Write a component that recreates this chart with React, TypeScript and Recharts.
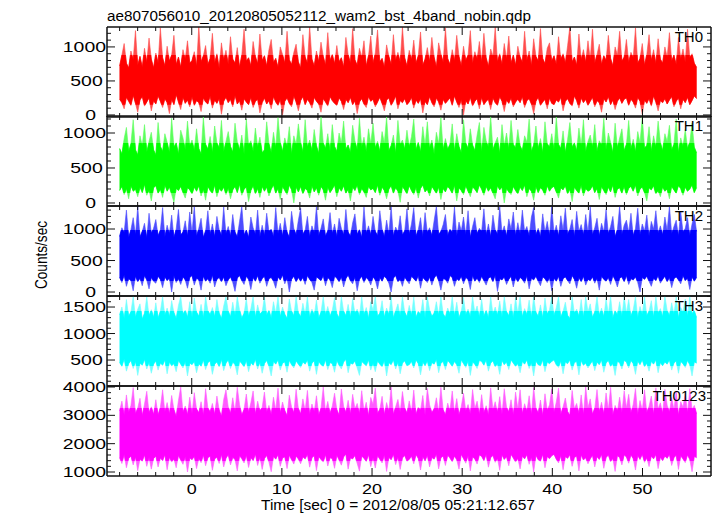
import React from "react";
import { AreaChart, Area, XAxis, YAxis } from "recharts";

// light curve bins, -8 s .. 56 s; each bin drawn as its low/high spread
const TIME_START = -8;
const TIME_END = 56;

const TH0_HI = [
  720, 880, 1050, 760, 690, 940, 810, 1240, 730, 860, 700, 980, 770, 1130, 820, 690,
  910, 760, 1280, 840, 720, 1010, 790, 880, 1170, 740, 850, 700, 960, 820, 1090, 760,
  800, 930, 710, 1300, 780, 870, 1020, 740, 830, 1200, 760, 900, 680, 1060, 810, 950,
  740, 1150, 820, 760, 990, 700, 880, 1260, 790, 840, 720, 1080, 860, 750, 1190, 800,
  870, 720, 960, 1110, 770, 830, 700, 1000, 890, 760, 1230, 810, 740, 920, 1040, 780,
  690, 1180, 850, 760, 1300, 820, 720, 940, 780, 1070, 860, 730, 1210, 800, 890, 750,
  1020, 780, 840, 700, 1140, 890, 760, 1270, 810, 730, 980, 850, 1090, 720, 870, 1160,
  760, 910, 1250, 780, 830, 700, 1030, 860, 740, 1180, 800, 920, 770, 1290, 840, 720,
  950, 810, 1100, 760, 870, 1220, 730, 820, 990, 780, 1140, 850, 700, 1060, 900, 770,
  1280, 830, 740, 960, 790, 1170, 860, 720, 1010, 800, 880, 1240, 750, 930, 820, 1080,
  770, 1200, 840, 710, 970, 860, 1290, 780, 900, 740, 1050, 820, 1160, 760, 880, 730,
  1010, 850, 770, 1230, 800, 940, 720, 1120, 860, 790, 1270, 830, 750, 980, 1060, 790,
  870, 740, 1150, 820, 900, 760, 1020, 1300, 780, 850, 730, 1190, 810, 960, 770, 1090,
  820, 1260, 760, 890, 1040, 740, 870, 800, 1170, 830, 720, 1000, 880, 1230, 790, 850,
  1110, 770, 920, 840, 1280, 760, 830, 1050, 730, 890, 1180, 800, 960, 750, 1120, 820,
  760, 1000, 850, 1210, 790, 880, 740, 1140, 820, 970, 770, 1260, 840, 900, 760, 700,
];
const TH0_LO = [
  230, 180, 90, 260, 200, 140, 290, 170, 40, 220, 270, 130, 190, 250, 60, 210,
  160, 280, 200, 110, 240, 180, 20, 230, 150, 300, 190, 80, 260, 170, 220, 120,
  270, 140, 210, 180, 50, 250, 190, 160, 280, 100, 220, 170, 240, 10, 200, 260,
  180, 230, 120, 290, 160, 210, 70, 240, 190, 150, 260, 110, 200, 230, 30, 180,
  250, 160, 210, 90, 270, 190, 140, 230, 0, 200, 250, 170, 120, 280, 190, 60,
  210, 270, 150, 230, 180, 100, 260, 200, 160, 40, 240, 190, 130, 270, 210, 170,
  140, 250, 200, 80, 230, 180, 260, 150, 210, 20, 190, 240, 160, 110, 270, 200,
  230, 120, 190, 260, 170, 60, 220, 250, 140, 200, 280, 90, 210, 180, 240, 150,
  190, 260, 100, 220, 170, 240, 30, 200, 150, 270, 180, 120, 250, 190, 70, 230,
  170, 210, 250, 140, 280, 190, 110, 230, 0, 210, 160, 260, 130, 200, 240, 90,
  260, 150, 200, 230, 80, 250, 180, 140, 270, 200, 50, 220, 170, 250, 120, 190,
  230, 180, 270, 110, 210, 240, 160, 20, 200, 260, 140, 190, 230, 90, 250, 170,
  150, 220, 190, 260, 60, 200, 240, 170, 130, 280, 210, 100, 250, 180, 230, 140,
  200, 260, 120, 210, 180, 40, 240, 190, 270, 150, 220, 80, 200, 250, 170, 230,
  250, 140, 230, 190, 100, 260, 200, 10, 220, 170, 240, 130, 280, 190, 60, 210,
  180, 240, 160, 220, 270, 120, 200, 250, 90, 230, 180, 260, 150, 210, 280, 240,
];

const TH1_HI = [
  780, 700, 920, 1080, 740, 850, 1190, 760, 690, 960, 820, 1120, 730, 880, 1010, 760,
  690, 1150, 810, 740, 990, 870, 720, 1210, 800, 860, 700, 1040, 930, 760, 1170, 820,
  900, 750, 1060, 780, 700, 1230, 840, 770, 950, 720, 1100, 860, 790, 1180, 740, 880,
  1020, 810, 730, 1140, 880, 760, 970, 700, 1200, 830, 890, 740, 1070, 800, 940, 720,
  760, 1160, 850, 720, 1010, 790, 1220, 870, 740, 930, 810, 1090, 700, 960, 840, 1130,
  870, 730, 1190, 800, 900, 750, 1050, 820, 710, 1240, 860, 780, 990, 740, 1120, 810,
  740, 1000, 860, 1170, 770, 830, 720, 1110, 890, 760, 1210, 800, 940, 730, 1060, 850,
  1140, 790, 880, 740, 1020, 860, 1230, 750, 820, 970, 710, 1180, 840, 900, 770, 1040,
  800, 950, 1200, 760, 870, 730, 1090, 820, 1160, 780, 900, 700, 1010, 850, 1220, 760,
  920, 770, 840, 1130, 740, 990, 810, 720, 1190, 860, 780, 1060, 830, 750, 970, 1150,
  730, 1080, 890, 800, 1240, 760, 860, 940, 710, 1120, 820, 1000, 770, 1180, 840, 790,
  1050, 820, 750, 960, 870, 1200, 740, 830, 1100, 780, 920, 720, 1160, 850, 800, 990,
  760, 1230, 840, 780, 1030, 720, 910, 1150, 800, 860, 750, 1070, 820, 1190, 730, 880,
  970, 800, 1120, 740, 890, 830, 1210, 760, 1000, 870, 720, 1140, 790, 930, 1060, 750,
  840, 1180, 770, 910, 730, 1020, 860, 1230, 790, 820, 1090, 740, 960, 800, 1170, 870,
  750, 990, 880, 1110, 760, 840, 1200, 720, 930, 810, 1050, 780, 870, 1140, 800, 720,
];
const TH1_LO = [
  180, 240, 120, 210, 60, 250, 170, 200, 90, 230, 150, 270, 110, 190, 30, 220,
  250, 140, 200, 80, 260, 170, 230, 120, 10, 210, 180, 240, 150, 70, 220, 190,
  130, 230, 170, 250, 100, 200, 40, 240, 180, 140, 260, 90, 210, 170, 230, 120,
  220, 60, 190, 240, 150, 270, 110, 200, 230, 20, 180, 250, 130, 210, 80, 240,
  170, 230, 100, 200, 260, 140, 210, 50, 240, 180, 120, 260, 190, 0, 230, 160,
  240, 130, 210, 180, 70, 250, 160, 220, 110, 240, 190, 40, 230, 150, 200, 260,
  90, 220, 170, 250, 140, 200, 30, 230, 180, 260, 120, 210, 160, 80, 240, 190,
  210, 150, 260, 110, 230, 180, 60, 200, 250, 140, 220, 170, 10, 240, 190, 130,
  250, 180, 120, 230, 70, 210, 260, 160, 200, 100, 240, 190, 140, 230, 50, 210,
  160, 240, 200, 140, 260, 30, 220, 180, 120, 250, 170, 90, 230, 200, 150, 260,
  200, 110, 240, 170, 220, 140, 60, 250, 190, 230, 0, 210, 160, 120, 240, 180,
  130, 230, 180, 260, 90, 210, 170, 40, 240, 150, 220, 190, 110, 250, 170, 220,
  240, 160, 70, 220, 190, 250, 130, 200, 20, 230, 180, 140, 260, 100, 210, 170,
  190, 250, 150, 210, 50, 240, 180, 120, 230, 160, 260, 80, 200, 220, 140, 240,
  120, 210, 240, 170, 260, 100, 200, 230, 150, 30, 220, 190, 250, 130, 180, 90,
  230, 170, 200, 60, 240, 190, 140, 250, 210, 110, 230, 170, 200, 260, 150, 220,
];

const TH2_HI = [
  880, 1020, 940, 1300, 860, 990, 1180, 900, 1360, 870, 960, 1090, 850, 1250, 930, 1010,
  1150, 890, 980, 1340, 870, 1060, 920, 1220, 860, 1000, 1310, 900, 950, 1130, 880, 1270,
  940, 1360, 880, 1010, 1170, 860, 970, 1290, 910, 1080, 870, 1200, 990, 890, 1350, 920,
  1040, 880, 1230, 950, 870, 1120, 1360, 900, 980, 860, 1190, 1020, 910, 1300, 870, 1060,
  890, 1250, 960, 1000, 870, 1340, 920, 1090, 880, 1180, 950, 860, 1280, 1010, 900, 1140,
  1330, 910, 980, 1200, 870, 1050, 940, 1360, 890, 1010, 1160, 880, 970, 1260, 920, 1080,
  870, 1170, 1010, 900, 1310, 950, 880, 1100, 1240, 910, 990, 860, 1350, 930, 1050, 900,
  1200, 960, 890, 1290, 1000, 870, 1140, 920, 1360, 880, 1030, 950, 1210, 900, 970, 1320,
  910, 1080, 1340, 880, 990, 1180, 870, 1260, 940, 1020, 890, 1130, 1360, 910, 960, 1070,
  1230, 890, 1000, 940, 1350, 880, 1110, 970, 1190, 900, 1290, 860, 1040, 1180, 920, 1010,
  960, 1320, 900, 1080, 870, 1220, 990, 910, 1360, 940, 1050, 880, 1160, 1000, 1270, 890,
  1100, 920, 1300, 960, 1040, 880, 1190, 1340, 900, 1010, 870, 1240, 950, 1120, 890, 1360,
  930, 1060, 880, 1210, 990, 1330, 910, 1000, 1150, 870, 1280, 960, 1070, 900, 1230, 940,
  1350, 900, 1020, 1170, 880, 1090, 960, 1310, 920, 1040, 1200, 870, 990, 1360, 910, 1060,
  1140, 950, 1250, 890, 1010, 1330, 900, 1080, 970, 1220, 880, 1120, 1000, 1290, 930, 1050,
  900, 1190, 980, 1360, 920, 1040, 1140, 880, 1270, 950, 1010, 1180, 890, 1080, 1230, 960,
];
const TH2_LO = [
  230, 150, 270, 90, 210, 180, 20, 250, 160, 220, 100, 260, 190, 50, 230, 170,
  140, 250, 200, 70, 240, 180, 220, 0, 260, 150, 210, 120, 240, 190, 60, 230,
  260, 110, 220, 190, 30, 250, 170, 210, 140, 270, 80, 200, 230, 160, 240, 100,
  190, 240, 150, 10, 220, 260, 180, 120, 250, 200, 40, 230, 170, 260, 140, 210,
  250, 90, 210, 230, 170, 60, 240, 190, 270, 130, 220, 0, 200, 250, 160, 230,
  170, 230, 120, 260, 200, 150, 30, 240, 210, 180, 260, 100, 230, 190, 70, 250,
  220, 160, 240, 80, 210, 270, 180, 130, 240, 20, 200, 250, 150, 230, 190, 110,
  240, 190, 50, 230, 170, 250, 210, 140, 0, 220, 260, 160, 200, 90, 240, 180,
  130, 250, 210, 170, 260, 60, 230, 190, 150, 240, 110, 220, 270, 180, 30, 210,
  200, 140, 260, 230, 90, 210, 180, 250, 130, 230, 200, 40, 260, 170, 220, 150,
  250, 180, 110, 220, 240, 160, 270, 10, 210, 190, 240, 120, 200, 250, 80, 230,
  160, 230, 200, 140, 260, 50, 220, 190, 250, 170, 100, 240, 210, 150, 230, 20,
  220, 170, 250, 90, 210, 240, 180, 130, 260, 200, 60, 230, 160, 250, 110, 200,
  180, 240, 140, 220, 30, 250, 200, 170, 230, 120, 260, 190, 80, 220, 240, 160,
  260, 120, 210, 190, 240, 150, 0, 230, 200, 250, 170, 90, 220, 180, 260, 140,
  200, 250, 160, 230, 70, 210, 240, 190, 130, 260, 180, 220, 40, 240, 170, 230,
];

const TH3_HI = [
  1350, 1500, 1280, 1640, 1320, 1410, 1700, 1300, 1460, 1560, 1270, 1380, 1690, 1330, 1450, 1300,
  1580, 1290, 1420, 1700, 1340, 1480, 1310, 1620, 1390, 1280, 1530, 1700, 1360, 1440, 1300, 1600,
  1300, 1670, 1400, 1320, 1550, 1290, 1700, 1430, 1350, 1490, 1310, 1640, 1380, 1280, 1520, 1700,
  1420, 1310, 1590, 1340, 1700, 1450, 1290, 1380, 1660, 1320, 1470, 1700, 1300, 1540, 1360, 1410,
  1690, 1340, 1440, 1290, 1600, 1380, 1700, 1310, 1500, 1360, 1280, 1650, 1420, 1330, 1700, 1390,
  1310, 1570, 1360, 1700, 1300, 1460, 1340, 1630, 1290, 1400, 1700, 1350, 1510, 1320, 1440, 1680,
  1370, 1290, 1700, 1420, 1330, 1550, 1300, 1660, 1380, 1460, 1310, 1700, 1350, 1490, 1280, 1600,
  1440, 1700, 1320, 1380, 1620, 1300, 1480, 1350, 1700, 1290, 1430, 1560, 1330, 1700, 1400, 1310,
  1530, 1340, 1690, 1300, 1410, 1360, 1640, 1290, 1700, 1450, 1320, 1380, 1600, 1340, 1700, 1370,
  1300, 1480, 1360, 1700, 1330, 1590, 1290, 1420, 1680, 1350, 1460, 1310, 1700, 1390, 1520, 1300,
  1650, 1320, 1440, 1290, 1700, 1370, 1500, 1340, 1610, 1300, 1700, 1410, 1330, 1560, 1290, 1680,
  1380, 1700, 1310, 1470, 1350, 1630, 1300, 1700, 1400, 1320, 1540, 1290, 1670, 1360, 1450, 1700,
  1330, 1490, 1700, 1300, 1420, 1590, 1340, 1280, 1700, 1380, 1460, 1320, 1640, 1300, 1700, 1410,
  1560, 1300, 1400, 1700, 1340, 1480, 1310, 1660, 1370, 1700, 1290, 1430, 1350, 1600, 1320, 1700,
  1390, 1640, 1320, 1450, 1700, 1290, 1510, 1360, 1700, 1330, 1420, 1620, 1300, 1700, 1380, 1470,
  1310, 1700, 1440, 1330, 1580, 1360, 1700, 1290, 1490, 1410, 1650, 1320, 1700, 1370, 1430, 1300,
];
const TH3_LO = [
  450, 380, 520, 290, 430, 490, 340, 470, 210, 440, 400, 510, 330, 460, 250, 420,
  480, 310, 440, 400, 500, 240, 460, 390, 430, 280, 490, 420, 350, 470, 200, 440,
  410, 470, 260, 430, 380, 500, 320, 450, 480, 230, 420, 460, 370, 510, 300, 440,
  500, 340, 460, 410, 220, 480, 430, 370, 490, 280, 450, 400, 510, 330, 460, 250,
  430, 490, 380, 200, 470, 420, 500, 310, 440, 460, 270, 490, 410, 350, 480, 420,
  360, 460, 420, 500, 290, 440, 480, 230, 470, 410, 380, 500, 320, 450, 430, 270,
  490, 400, 330, 460, 510, 260, 440, 420, 480, 350, 210, 470, 430, 390, 500, 310,
  440, 280, 480, 420, 370, 490, 200, 450, 410, 500, 330, 460, 240, 440, 480, 390,
  410, 470, 350, 500, 430, 220, 460, 390, 480, 300, 450, 420, 510, 260, 440, 470,
  320, 490, 440, 380, 470, 410, 250, 500, 430, 360, 480, 210, 460, 420, 340, 490,
  470, 400, 500, 290, 440, 480, 370, 430, 230, 490, 410, 460, 320, 500, 440, 380,
  430, 260, 470, 420, 500, 340, 450, 200, 480, 410, 390, 500, 280, 460, 430, 470,
  500, 410, 360, 480, 240, 460, 430, 500, 310, 450, 470, 220, 490, 400, 440, 350,
  420, 480, 300, 460, 410, 500, 270, 440, 490, 380, 430, 210, 470, 450, 330, 490,
  460, 350, 490, 430, 230, 480, 410, 500, 370, 440, 290, 470, 420, 500, 260, 450,
  390, 460, 420, 500, 310, 440, 480, 250, 470, 430, 360, 490, 410, 200, 460, 440,
];

const TH0123_HI = [
  3150, 3500, 3000, 3720, 3100, 3350, 3980, 3050, 3250, 3600, 2980, 3400, 3850, 3080, 3300, 3020,
  3550, 3000, 3280, 3900, 3120, 3450, 3040, 3700, 3200, 2950, 3520, 4000, 3100, 3330, 3010, 3640,
  3050, 3800, 3220, 3080, 3480, 2990, 3940, 3260, 3110, 3420, 3020, 3680, 3180, 2960, 3560, 3900,
  3300, 3060, 3620, 3120, 3990, 3380, 3000, 3210, 3750, 3090, 3440, 3860, 3030, 3500, 3150, 3280,
  3820, 3110, 3350, 3010, 3640, 3190, 3960, 3070, 3470, 3160, 2980, 3710, 3290, 3080, 3920, 3240,
  3040, 3580, 3170, 3880, 3020, 3400, 3130, 3690, 3000, 3250, 4000, 3140, 3490, 3060, 3330, 3780,
  3200, 2990, 3930, 3320, 3090, 3530, 3030, 3740, 3230, 3420, 3050, 3870, 3150, 3460, 2970, 3630,
  3390, 3960, 3060, 3210, 3670, 3010, 3450, 3140, 4000, 3020, 3300, 3560, 3100, 3840, 3260, 3070,
  3510, 3120, 3890, 3030, 3280, 3180, 3700, 2990, 3950, 3370, 3080, 3230, 3620, 3110, 3990, 3190,
  3010, 3430, 3160, 3860, 3090, 3590, 3000, 3310, 3780, 3150, 3380, 3040, 3910, 3240, 3500, 3020,
  3730, 3080, 3340, 2990, 3970, 3200, 3480, 3100, 3660, 3020, 3940, 3290, 3110, 3550, 3000, 3820,
  3220, 3900, 3050, 3410, 3140, 3690, 3010, 3980, 3260, 3070, 3540, 2980, 3760, 3180, 3370, 3930,
  3100, 3470, 3960, 3020, 3300, 3610, 3130, 2990, 3880, 3240, 3420, 3060, 3720, 3010, 4000, 3280,
  3580, 3030, 3250, 3910, 3120, 3460, 3040, 3790, 3200, 3990, 3000, 3350, 3150, 3640, 3080, 3870,
  3270, 3740, 3070, 3390, 3950, 3010, 3520, 3180, 3900, 3090, 3320, 3680, 3020, 3970, 3230, 3440,
  3060, 3920, 3360, 3110, 3630, 3200, 3860, 2990, 3480, 3290, 3770, 3080, 3940, 3210, 3350, 3050,
];
const TH0123_LO = [
  1500, 1300, 1620, 1150, 1480, 1560, 1250, 1530, 1050, 1450, 1380, 1600, 1200, 1510, 1100, 1470,
  1560, 1180, 1490, 1400, 1610, 1080, 1520, 1350, 1460, 1150, 1580, 1420, 1270, 1540, 1000, 1490,
  1430, 1550, 1120, 1480, 1330, 1600, 1220, 1500, 1560, 1060, 1460, 1520, 1300, 1620, 1180, 1480,
  1610, 1250, 1510, 1440, 1040, 1570, 1470, 1320, 1590, 1160, 1500, 1400, 1630, 1230, 1530, 1090,
  1470, 1580, 1340, 1010, 1550, 1450, 1610, 1200, 1490, 1530, 1120, 1590, 1430, 1280, 1560, 1460,
  1290, 1530, 1460, 1620, 1170, 1500, 1570, 1050, 1540, 1440, 1350, 1610, 1210, 1500, 1470, 1130,
  1590, 1420, 1240, 1530, 1630, 1100, 1490, 1460, 1580, 1300, 1030, 1560, 1480, 1370, 1610, 1190,
  1500, 1140, 1570, 1450, 1320, 1600, 1020, 1510, 1430, 1620, 1260, 1530, 1090, 1490, 1580, 1380,
  1440, 1560, 1290, 1610, 1480, 1070, 1540, 1390, 1590, 1180, 1510, 1450, 1630, 1110, 1500, 1560,
  1230, 1590, 1490, 1360, 1560, 1430, 1100, 1620, 1470, 1310, 1580, 1040, 1530, 1460, 1280, 1600,
  1550, 1400, 1620, 1170, 1500, 1580, 1340, 1480, 1060, 1600, 1440, 1540, 1220, 1620, 1490, 1350,
  1480, 1110, 1560, 1460, 1610, 1270, 1520, 1000, 1590, 1430, 1380, 1620, 1150, 1540, 1470, 1570,
  1620, 1450, 1320, 1580, 1080, 1540, 1480, 1610, 1200, 1510, 1560, 1040, 1600, 1420, 1500, 1290,
  1460, 1590, 1180, 1540, 1440, 1620, 1130, 1500, 1600, 1360, 1480, 1020, 1570, 1510, 1250, 1600,
  1530, 1310, 1600, 1470, 1070, 1580, 1440, 1620, 1340, 1500, 1190, 1560, 1460, 1610, 1120, 1520,
  1400, 1560, 1480, 1620, 1230, 1500, 1590, 1090, 1570, 1460, 1330, 1600, 1440, 1010, 1550, 1500,
];

const X_TICKS = [
  -8, -6, -4, -2, 0, 2, 4, 6, 8, 10, 12, 14, 16, 18, 20, 22, 24, 26, 28, 30, 32,
  34, 36, 38, 40, 42, 44, 46, 48, 50, 52, 54, 56,
];
const X_MAJOR = [0, 10, 20, 30, 40, 50];

const TICKS_1200 = [0, 100, 200, 300, 400, 500, 600, 700, 800, 900, 1000, 1100, 1200];
const TICKS_1300 = [0, 100, 200, 300, 400, 500, 600, 700, 800, 900, 1000, 1100, 1200, 1300];
const TICKS_TH3 = [
  100, 200, 300, 400, 500, 600, 700, 800, 900, 1000, 1100, 1200, 1300, 1400, 1500, 1600, 1700,
];
const TICKS_SUM = [
  1000, 1200, 1400, 1600, 1800, 2000, 2200, 2400, 2600, 2800, 3000, 3200, 3400, 3600, 3800, 4000,
];

const FONT = "'Liberation Sans', Arial, Helvetica, sans-serif";
const INK = "#111";
const W = 717;
const PLOT_LEFT = 107;
const PLOT_RIGHT = 711;
const PANEL_H = 90;
const PAD = 10;
const X_DOMAIN: [number, number] = [-9.4, 57.6];

// core = band where the trace is dense (full colour); outside it only thin, lighter spikes
const PANELS = [
  { name: "TH0", lo: TH0_LO, hi: TH0_HI, color: "#ff0000", tint: "#ff4c4c", domain: [-30, 1293], core: [150, 880], ticks: TICKS_1200, major: [0, 500, 1000], top: 27 },
  { name: "TH1", lo: TH1_LO, hi: TH1_HI, color: "#00ff00", tint: "#5cff5c", domain: [-43, 1243], core: [140, 860], ticks: TICKS_1200, major: [0, 500, 1000], top: 116 },
  { name: "TH2", lo: TH2_LO, hi: TH2_HI, color: "#0000ff", tint: "#4c4cff", domain: [-63, 1365], core: [170, 980], ticks: TICKS_1300, major: [0, 500, 1000], top: 206 },
  { name: "TH3", lo: TH3_LO, hi: TH3_HI, color: "#00ffff", tint: "#70ffff", domain: [10, 1708], core: [380, 1420], ticks: TICKS_TH3, major: [500, 1000, 1500], top: 296 },
  { name: "TH0123", lo: TH0123_LO, hi: TH0123_HI, color: "#ff00ff", tint: "#ff5cff", domain: [859, 4035], core: [1380, 3250], ticks: TICKS_SUM, major: [1000, 2000, 3000, 4000], top: 386 },
];

const YTick = (props: any) => {
  const { x, y, payload, major, side } = props;
  const isMajor = major.includes(payload.value);
  const len = isMajor ? 8 : 4;
  const label = String(payload.value);
  return (
    <g>
      <line x1={x} y1={y} x2={x + side * len} y2={y} stroke={INK} strokeWidth={1} />
      {side === 1 && isMajor && (
        <text
          x={x - 1 - (4 - label.length) * 3.3}
          y={y}
          textAnchor="end"
          dominantBaseline="central"
          fontFamily={FONT}
          fontSize={14}
          fill="#000"
          textLength={label.length * 10.8}
          lengthAdjust="spacingAndGlyphs"
        >
          {label}
        </text>
      )}
    </g>
  );
};

const XTick = (props: any) => {
  const { x, y, payload, dir, showLabel } = props;
  const isMajor = X_MAJOR.includes(payload.value);
  const len = isMajor ? 8 : 4;
  const label = String(payload.value);
  return (
    <g>
      <line x1={x} y1={y} x2={x} y2={y + dir * len} stroke={INK} strokeWidth={1} />
      {showLabel && isMajor && (
        <text
          x={x}
          y={y + 13}
          textAnchor="middle"
          dominantBaseline="central"
          fontFamily={FONT}
          fontSize={14}
          fill="#000"
          textLength={label.length * 10}
          lengthAdjust="spacingAndGlyphs"
        >
          {label}
        </text>
      )}
    </g>
  );
};

function panelData(p: any) {
  const n = p.hi.length;
  return p.hi.map((hi: number, i: number) => ({
    t: TIME_START + (i * (TIME_END - TIME_START)) / (n - 1),
    range: [p.lo[i], hi],
  }));
}

// same trace, redrawn in full colour on a chart whose y-range is only the dense core
function CoreLayer({ p, data }: { p: any; data: any[] }) {
  const [d0, d1] = p.domain;
  const px = PANEL_H / (d1 - d0);
  const top = p.top + (d1 - p.core[1]) * px;
  const h = (p.core[1] - p.core[0]) * px;
  return (
    <div style={{ position: "absolute", left: 0, top, width: W, height: h }}>
      <AreaChart width={W} height={h} data={data} margin={{ top: 0, right: W - PLOT_RIGHT, bottom: 0, left: PLOT_LEFT }}>
        <XAxis dataKey="t" type="number" domain={X_DOMAIN} allowDataOverflow hide />
        <YAxis type="number" domain={p.core} allowDataOverflow hide />
        <Area
          dataKey="range"
          type="linear"
          stroke={p.color}
          strokeWidth={0.6}
          fill={p.color}
          fillOpacity={1}
          dot={false}
          activeDot={false}
          isAnimationActive={false}
        />
      </AreaChart>
    </div>
  );
}

function Panel({ p, last }: { p: any; last: boolean }) {
  const bottomH = last ? 40 : PAD;
  const h = PANEL_H + PAD + bottomH;
  const data = panelData(p);
  const axisLine = { stroke: INK, strokeWidth: 1.5 };
  return (
    <>
      <div style={{ position: "absolute", left: 0, top: p.top - PAD, width: W, height: h }}>
        <AreaChart width={W} height={h} data={data} margin={{ top: 0, right: 0, bottom: 0, left: PLOT_LEFT - 60 }}>
          <XAxis
            xAxisId="b"
            dataKey="t"
            type="number"
            domain={X_DOMAIN}
            allowDataOverflow
            ticks={X_TICKS}
            interval={0}
            height={bottomH}
            tickSize={0}
            tickMargin={0}
            axisLine={axisLine}
            tick={(tp: any) => <XTick {...tp} dir={-1} showLabel={last} />}
          />
          <XAxis
            xAxisId="t"
            orientation="top"
            dataKey="t"
            type="number"
            domain={X_DOMAIN}
            allowDataOverflow
            ticks={X_TICKS}
            interval={0}
            height={PAD}
            tickSize={0}
            tickMargin={0}
            axisLine={axisLine}
            tick={(tp: any) => <XTick {...tp} dir={1} showLabel={false} />}
          />
          <YAxis
            yAxisId="l"
            type="number"
            domain={p.domain}
            allowDataOverflow
            ticks={p.ticks}
            interval={0}
            width={60}
            tickSize={0}
            tickMargin={0}
            axisLine={axisLine}
            tick={(tp: any) => <YTick {...tp} major={p.major} side={1} />}
          />
          <YAxis
            yAxisId="r"
            orientation="right"
            type="number"
            domain={p.domain}
            allowDataOverflow
            ticks={p.ticks}
            interval={0}
            width={W - PLOT_RIGHT}
            tickSize={0}
            tickMargin={0}
            axisLine={axisLine}
            tick={(tp: any) => <YTick {...tp} major={p.major} side={-1} />}
          />
          <Area
            xAxisId="b"
            yAxisId="l"
            dataKey="range"
            type="linear"
            stroke={p.tint}
            strokeWidth={0.6}
            fill={p.tint}
            fillOpacity={1}
            dot={false}
            activeDot={false}
            isAnimationActive={false}
          />
        </AreaChart>
      </div>
      <CoreLayer p={p} data={data} />
      <div
        style={{
          position: "absolute",
          right: W - 703 + (p.name.length > 3 ? -3 : 0),
          top: p.top + 2,
          fontFamily: FONT,
          fontSize: 15,
          color: "#000",
          lineHeight: "16px",
        }}
      >
        {p.name}
      </div>
    </>
  );
}

export default function App() {
  return (
    <div style={{ position: "absolute", left: 0, top: 0, width: W, height: 516, background: "#fff", overflow: "hidden" }}>
      {PANELS.map((p, i) => (
        <Panel key={p.name} p={p} last={i === PANELS.length - 1} />
      ))}
      <svg width={W} height={516} style={{ position: "absolute", left: 0, top: 0, pointerEvents: "none" }}>
        <text
          x={PLOT_LEFT}
          y={16}
          dominantBaseline="central"
          fontFamily={FONT}
          fontSize={14}
          fill="#000"
          textLength={424}
          lengthAdjust="spacingAndGlyphs"
        >
          ae807056010_20120805052112_wam2_bst_4band_nobin.qdp
        </text>
        <text
          x={261}
          y={505}
          dominantBaseline="central"
          fontFamily={FONT}
          fontSize={14}
          fill="#000"
          textLength={274}
          lengthAdjust="spacingAndGlyphs"
        >
          Time [sec] 0 = 2012/08/05 05:21:12.657
        </text>
        <text
          x={41}
          y={255}
          transform="rotate(-90 41 255)"
          textAnchor="middle"
          dominantBaseline="central"
          fontFamily={FONT}
          fontSize={16}
          fill="#000"
          textLength={68}
          lengthAdjust="spacingAndGlyphs"
        >
          Counts/sec
        </text>
      </svg>
    </div>
  );
}
